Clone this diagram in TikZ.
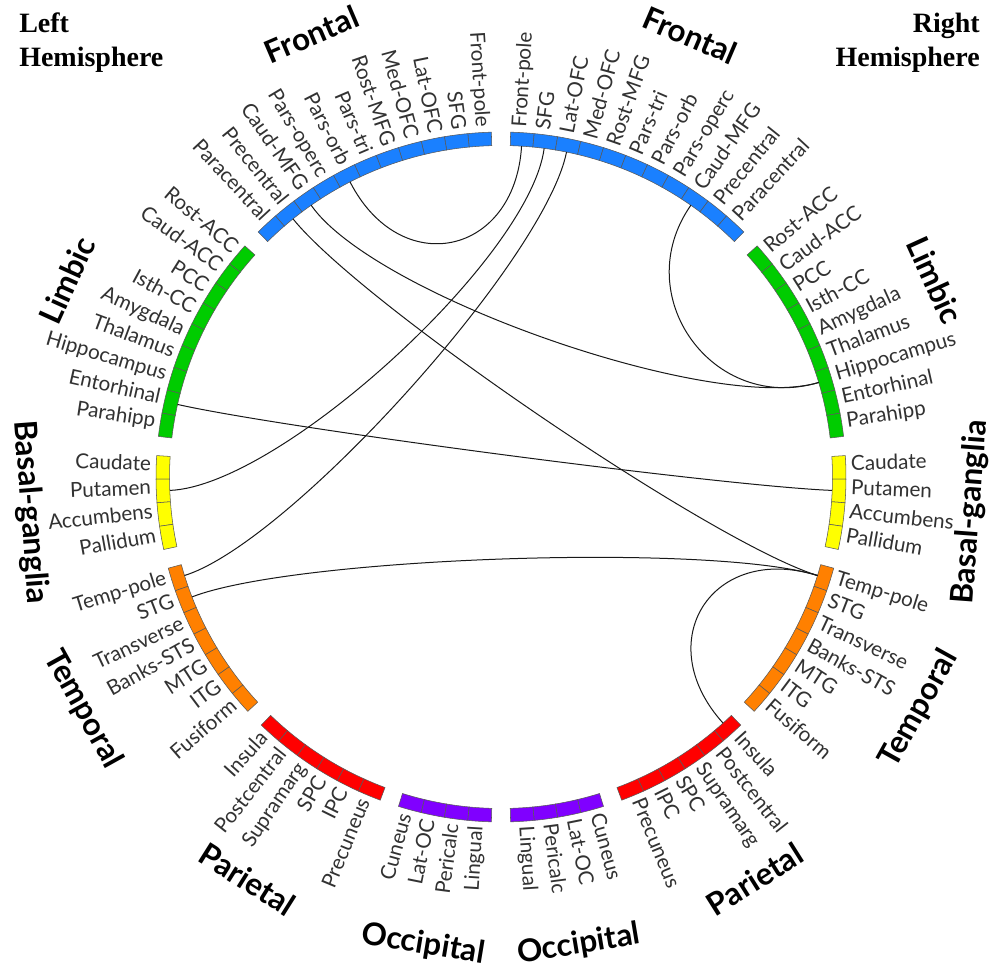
\documentclass[tikz,border=0pt]{standalone}
\usepackage{fontspec}
\setmainfont{Liberation Serif}
\newfontfamily\lato{Lato}
\usetikzlibrary{calc}
\definecolor{cfront}{RGB}{26,128,255}
\definecolor{climb}{RGB}{0,204,0}
\definecolor{cbasal}{RGB}{255,255,0}
\definecolor{ctemp}{RGB}{255,128,0}
\definecolor{cpar}{RGB}{255,0,0}
\definecolor{cocc}{RGB}{128,0,255}
\definecolor{lblgray}{RGB}{50,50,50}
\newcommand\segw{3.922}
\newcommand\rin{331.5}
\newcommand\rout{345}
\newcommand\rlab{350}
\newcommand\ctrlk{0.667}
\tikzset{
  segbox/.style={draw=black!65, line width=0.4pt},
  lbl/.style={font=\lato\fontsize{15.5}{18}\selectfont, text=lblgray, inner sep=0pt, text height=0.75em, text depth=0.25em},
  lobelbl/.style={font=\lato\bfseries\fontsize{23.5}{27}\selectfont, text=black, inner sep=0pt, anchor=mid},
  hemi/.style={font=\bfseries\fontsize{21}{25}\selectfont, text=black, inner sep=0pt},
  chordline/.style={draw=black!90, line width=0.75pt},
}
\newcommand\mklobe[3]{%
  \foreach \nm [count=\i from 0] in {#3} {
    \pgfmathsetmacro\aA{#1-\i*\segw}
    \pgfmathsetmacro\aB{#1-(\i+1)*\segw}
    \pgfmathsetmacro\aC{#1-(\i+0.5)*\segw}
    \pgfmathsetmacro\bA{180-\aA}
    \pgfmathsetmacro\bB{180-\aB}
    \pgfmathsetmacro\bC{180-\aC}
    \pgfmathsetmacro\nC{-\aC}
    \draw[segbox, fill=#2] (\aA:\rin) arc[start angle=\aA, end angle=\aB, radius=\rin] -- (\aB:\rout) arc[start angle=\aB, end angle=\aA, radius=\rout] -- cycle;
    \draw[segbox, fill=#2] (\bA:\rin) arc[start angle=\bA, end angle=\bB, radius=\rin] -- (\bB:\rout) arc[start angle=\bB, end angle=\bA, radius=\rout] -- cycle;
    \coordinate (R-\nm) at (\aC:\rin);
    \coordinate (L-\nm) at (\bC:\rin);
    \node[lbl, anchor=west, rotate=\aC] (RL-\nm) at (\aC:\rlab) {\nm};
    \node[lbl, anchor=east, rotate=\nC] (LL-\nm) at (\bC:\rlab) {\nm};
  }
}
\newcommand\chord[2]{\draw[chordline] (#1) .. controls ($(ctr)!\ctrlk!(#1)$) and ($(ctr)!\ctrlk!(#2)$) .. (#2);}
\begin{document}
\begin{tikzpicture}[x=0.75pt,y=0.75pt]
\useasboundingbox (-501,-494) rectangle (491,477);
\fill[white] (-501,-494) rectangle (491,477);
\coordinate (ctr) at (0,0);
% segments and labels
\mklobe{88.4}{cfront}{Front-pole,SFG,Lat-OFC,Med-OFC,Rost-MFG,Pars-tri,Pars-orb,Pars-operc,Caud-MFG,Precentral,Paracentral}
\mklobe{42.058}{climb}{Rost-ACC,Caud-ACC,PCC,Isth-CC,Amygdala,Thalamus,Hippocampus,Entorhinal,Parahipp}
\mklobe{3.56}{cbasal}{Caudate,Putamen,Accumbens,Pallidum}
\mklobe{-15.328}{ctemp}{Temp-pole,STG,Transverse,Banks-STS,MTG,ITG,Fusiform}
\mklobe{-45.982}{cpar}{Insula,Postcentral,Supramarg,SPC,IPC,Precuneus}
\mklobe{-72.714}{cocc}{Cuneus,Lat-OC,Pericalc,Lingual}
% chords
\chord{L-Pars-orb}{R-Front-pole}
\chord{R-SFG}{L-Putamen}
\chord{R-Lat-OFC}{L-Temp-pole}
\chord{L-Caud-MFG}{R-Hippocampus}
\chord{L-Precentral}{R-Temp-pole}
\chord{R-Caud-MFG}{R-Hippocampus}
\chord{L-Entorhinal}{R-Putamen}
\chord{L-STG}{R-Temp-pole}
\chord{R-Temp-pole}{R-Insula}
% lobe labels
\node[lobelbl, rotate=-23.17] (RFrontal) at (66.83:472) {Frontal};
\node[lobelbl, rotate=-65.59] (RLimbic) at (24.41:468) {Limbic};
\node[lobelbl, rotate=85.716] (RBasal) at (-4.284:477) {Basal-ganglia};
\node[lobelbl, rotate=60.945] (RTemporal) at (-29.055:484) {Temporal};
\node[lobelbl, rotate=32.252] (RParietal) at (-57.748:484) {Parietal};
\node[lobelbl, rotate=9.442] (ROccipital) at (-80.558:480) {Occipital};
\node[lobelbl, rotate=23.17] (LFrontal) at (113.17:473) {Frontal};
\node[lobelbl, rotate=65.59] (LLimbic) at (155.59:468) {Limbic};
\node[lobelbl, rotate=-85.716] (LBasal) at (184.284:478) {Basal-ganglia};
\node[lobelbl, rotate=-60.945] (LTemporal) at (209.055:484) {Temporal};
\node[lobelbl, rotate=-32.252] (LParietal) at (237.748:484) {Parietal};
\node[lobelbl, rotate=-9.442] (LOccipital) at (260.558:480) {Occipital};
% hemisphere labels
\node[hemi, anchor=base west] (lefthemiA) at (-482,444.3) {Left};
\node[hemi, anchor=base west] (lefthemiB) at (-482,410.3) {Hemisphere};
\node[hemi, anchor=base east] (righthemiA) at (479,444.3) {Right};
\node[hemi, anchor=base east] (righthemiB) at (479,410.3) {Hemisphere};
\end{tikzpicture}
\end{document}
